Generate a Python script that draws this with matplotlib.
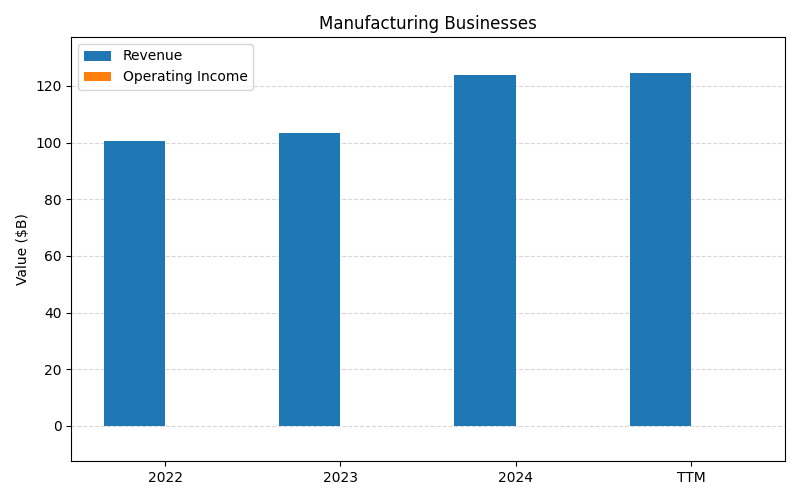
import matplotlib
matplotlib.use("Agg")
import matplotlib.pyplot as plt
import numpy as np

categories = ["2022", "2023", "2024", "TTM"]
revenue = [100.6, 103.4, 123.9, 124.6]
operating_income = [np.nan, np.nan, np.nan, np.nan]

x = np.arange(len(categories))
w = 0.35
fig, ax = plt.subplots(figsize=(8, 5), dpi=100)
ax.bar(x - w/2, revenue, w, label="Revenue", color="#1f77b4")
ax.bar(x + w/2, operating_income, w, label="Operating Income", color="#ff7f0e")
ax.set_xticks(x)
ax.set_xticklabels(categories)
ax.set_xlim(-0.535, 3.535)
ax.set_ylim(-12.4, 137.3)
ax.set_ylabel("Value ($B)")
ax.set_title("Manufacturing Businesses")
ax.grid(axis="y", linestyle="--", alpha=0.5)
ax.set_axisbelow(True)
ax.legend(loc="upper left")
fig.subplots_adjust(left=0.089, right=0.981, top=0.926, bottom=0.078)
fig.savefig("out.png")
